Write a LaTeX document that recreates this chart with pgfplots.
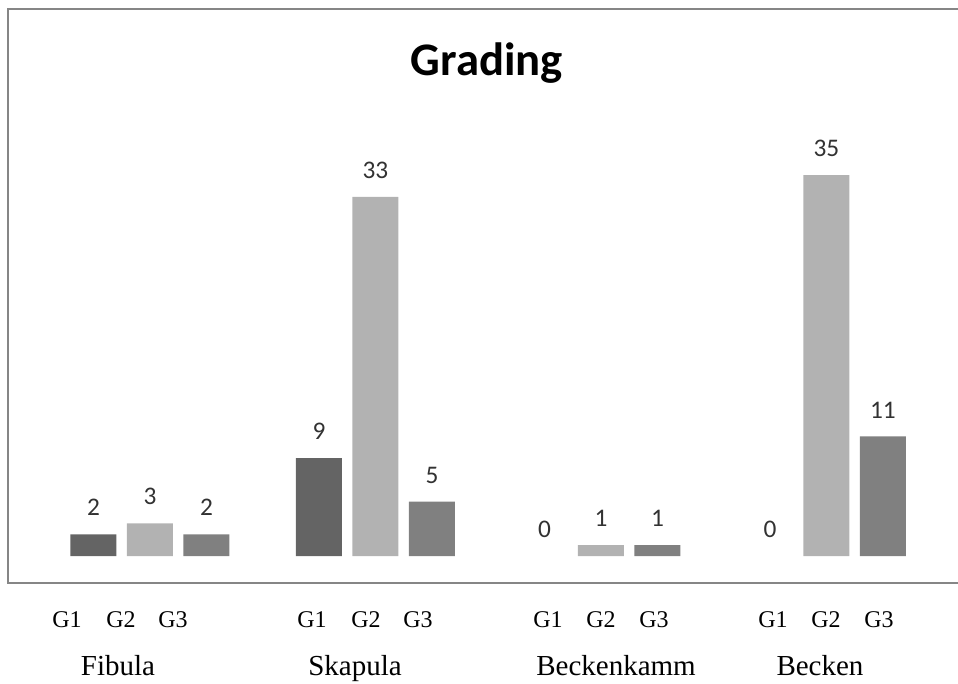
\documentclass[border=0pt]{standalone}
\usepackage{pgfplots}
\pgfplotsset{compat=1.18}
\usepackage{fontspec}
\setmainfont{Liberation Serif}
\newfontfamily\calibri{Carlito}

\definecolor{gone}{RGB}{100,100,100}
\definecolor{gtwo}{RGB}{178,178,178}
\definecolor{gthree}{RGB}{128,128,128}
\definecolor{framegray}{RGB}{134,134,134}
\definecolor{vallabel}{RGB}{50,50,50}

\begin{document}
\begin{tikzpicture}
\begin{axis}[
  at={(6pt,75pt)}, anchor=south west,
  width=718.5pt, height=430.5pt, scale only axis,
  xmin=-0.6297, xmax=3.619, ymin=-2.48, ymax=50.27,
  xtick=\empty, ytick=\empty,
  axis line style={draw=framegray, line width=1.5pt},
  bar width=0.204,
  /pgf/number format/assume math mode=true,
  nodes near coords,
  every node near coord/.append style={font=\calibri\fontsize{19}{19}\selectfont,
    text=vallabel, inner sep=0pt, yshift=13.5pt, anchor=south},
  clip=false,
]
% groups: 0 Fibula, 1 Skapula, 2 Beckenkamm, 3 Becken
% G1 (the two zero counts carry only their label)
\addplot[ybar, bar shift=0pt, fill=gone, draw=none]
  coordinates {(-0.2506,2) (0.7494,9)};
\addplot[only marks, mark=none]
  coordinates {(1.7494,0) (2.7494,0)};
% G2
\addplot[ybar, bar shift=0pt, fill=gtwo, draw=none]
  coordinates {(0,3) (1,33) (2,1) (3,35)};
% G3
\addplot[ybar, bar shift=0pt, fill=gthree, draw=none]
  coordinates {(0.2506,2) (1.2506,5) (2.2506,1) (3.2506,11)};
\end{axis}

\node[anchor=base, inner sep=0pt, font=\calibri\bfseries\fontsize{35}{35}\selectfont]
  at (365.25pt,455.25pt) {Grading};

\begin{scope}[every node/.style={anchor=base, inner sep=0pt, font=\fontsize{18}{18}\selectfont}]
  \node at (50.25pt,42pt) {G1}; \node at (90.75pt,42pt) {G2}; \node at (129.75pt,42pt) {G3};
  \node at (234pt,42pt) {G1};   \node at (274.5pt,42pt) {G2}; \node at (313.5pt,42pt) {G3};
  \node at (411pt,42pt) {G1};   \node at (450.75pt,42pt) {G2}; \node at (490.5pt,42pt) {G3};
  \node at (579.75pt,42pt) {G1}; \node at (619.5pt,42pt) {G2}; \node at (659.25pt,42pt) {G3};
\end{scope}
\begin{scope}[every node/.style={anchor=base, inner sep=0pt, font=\fontsize{21.75}{21.75}\selectfont}]
  \node at (88.5pt,6pt) {Fibula};
  \node at (266.25pt,6pt) {Skapula};
  \node at (462pt,6pt) {Beckenkamm};
  \node at (615pt,6pt) {Becken};
\end{scope}

\pgfresetboundingbox
\path (0pt,0pt) rectangle (718.5pt,512.25pt);
\end{tikzpicture}
\end{document}
